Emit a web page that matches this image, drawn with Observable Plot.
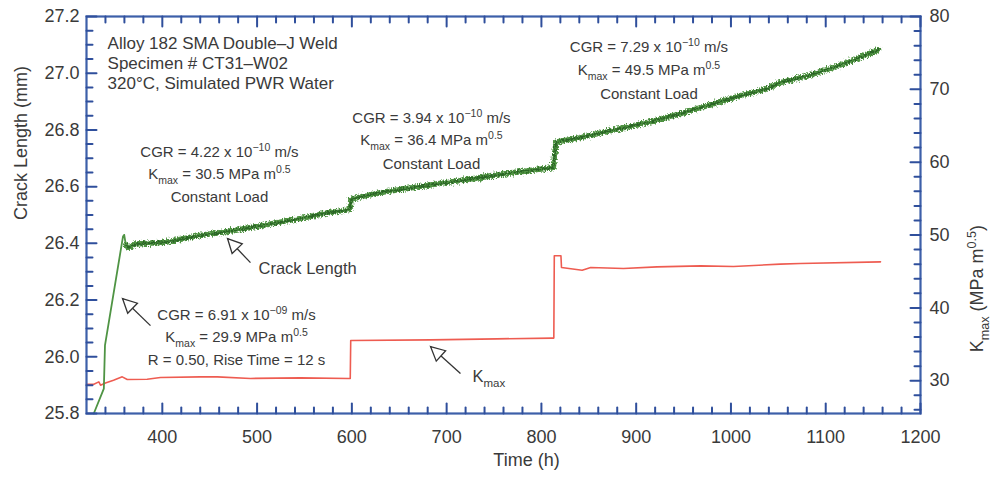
<!DOCTYPE html>
<html>
<head>
<meta charset="utf-8">
<script src="https://cdn.jsdelivr.net/npm/d3@7"></script>
<script src="https://cdn.jsdelivr.net/npm/@observablehq/plot@0.6"></script>
<style>
  body { margin: 0; background: #fff; overflow: hidden; }
  #chart svg { display: block; }
</style>
</head>
<body>
<div id="chart"></div>
<script>
// Crack length record (time in h, crack length in mm)
const crackTime = [327.7, 338.3, 339.5, 358.5, 359.8, 361.5, 364, 372, 385, 405, 440, 475, 510, 546, 575, 596, 598.3,
  599.0, 630, 665, 701, 736, 771, 800, 812.5,
  815.5, 841, 870, 912, 950, 982, 1010, 1038.6, 1052, 1080, 1108, 1130, 1155.7];
const crackLength = [25.80, 25.888, 26.040, 26.424, 26.430, 26.395, 26.385, 26.398, 26.400, 26.405, 26.428, 26.445, 26.466, 26.488, 26.508, 26.518, 26.525,
  26.556, 26.579, 26.597, 26.615, 26.632, 26.650, 26.662, 26.667,
  26.757, 26.773, 26.795, 26.826, 26.860, 26.893, 26.920, 26.946, 26.967, 26.990, 27.020, 27.047, 27.083];

// K_max record (time in h, MPa m^0.5)
const kTime = [320, 327.7, 333, 334.8, 340, 348.5, 357.7, 363, 384, 398, 440, 458, 493, 546, 596.5, 598.3,
  598.8, 683, 753, 811.4, 813.1,
  813.6, 820.6, 821.2, 843, 852, 886.6, 922, 968, 1002.7, 1052, 1073, 1157.8];
const kValue = [29.52, 29.52, 29.84, 29.38, 29.70, 30.07, 30.53, 30.17, 30.21, 30.45, 30.53, 30.53, 30.31, 30.39, 30.31, 30.31,
  35.52, 35.61, 35.75, 35.85, 35.85,
  47.16, 47.16, 45.55, 45.17, 45.55, 45.41, 45.63, 45.77, 45.69, 46.00, 46.10, 46.32];

// Axis ticks and labels
const timeTicks = [400, 500, 600, 700, 800, 900, 1000, 1100, 1200];
const lengthTicks = [25.8, 26.0, 26.2, 26.4, 26.6, 26.8, 27.0, 27.2];
const kTicks = [30, 40, 50, 60, 70, 80];
const timeMinor = d3.range(340, 1200, 20).filter(v => v % 100 !== 0);
const lengthMinor = d3.range(1, 28).filter(i => i % 4 !== 0).map(i => 25.8 + i * 0.05);
const kMinor = d3.range(26, 80, 2).filter(v => v % 10 !== 0);

// Annotation text (position in time / crack-length units)
const infoLines = ["Alloy 182 SMA Double–J Weld", "Specimen # CT31–W02", "320°C, Simulated PWR Water"];
const infoTime = 342.2;
const infoLength = [27.1047, 27.034, 26.9636];

const noteText = [
  "CGR = 4.22 x 10^{−10} m/s", "K_{max} = 30.5 MPa m^{0.5}", "Constant Load",
  "CGR = 3.94 x 10^{−10} m/s", "K_{max} = 36.4 MPa m^{0.5}", "Constant Load",
  "CGR = 7.29 x 10^{−10} m/s", "K_{max} = 49.5 MPa m^{0.5}", "Constant Load",
  "CGR = 6.91 x 10^{−09} m/s", "K_{max} = 29.9 MPa m^{0.5}", "R = 0.50, Rise Time = 12 s"
];
const noteTime = [460.3, 460.3, 460.3, 684, 684, 684, 913.5, 913.5, 913.5, 478.3, 478.3, 478.3];
const noteLength = [26.7203, 26.6427, 26.5616, 26.840, 26.7626, 26.678, 27.0906, 27.0095, 26.9248, 26.1456, 26.068, 25.9869];

const tagText = ["Crack Length", "K_{max}"];
const tagTime = [501.5, 727.3];
const tagLength = [26.311, 25.931];

// Arrows: tail -> tip
const arrowTail = [[387.5, 26.110], [493.0, 26.332], [714.6, 25.941]];
const arrowTip = [[358.0, 26.2055], [468.8, 26.417], [683.0, 26.036]];

// Layout
const W = 991, H = 478, ML = 86, MR = 71, MT = 16, MB = 65;
const innerW = W - ML - MR, innerH = H - MT - MB;
const X0 = 320, X1 = 1200, Y0 = 25.8, Y1 = 27.2, K0 = 25.5, K1 = 80;
const toL = k => Y0 + (k - K0) * (Y1 - Y0) / (K1 - K0);
const fromL = l => K0 + (l - Y0) * (K1 - K0) / (Y1 - Y0);

const blue = "#3d5fa9";
const ink = "#3a3a3a";
const font = "'Liberation Sans', Arial, Helvetica, sans-serif";

const crack = crackTime.map((t, i) => ({t, L: crackLength[i]}));
const crackSteady = crack.filter(d => d.t >= 361);
const kmax = kTime.map((t, i) => ({t, L: toL(kValue[i])}));
const info = infoLines.map((s, i) => ({t: infoTime, L: infoLength[i], s}));
const notes = noteText.map((s, i) => ({t: noteTime[i], L: noteLength[i], s}));
const tags = tagText.map((s, i) => ({t: tagTime[i], L: tagLength[i], s}));

// pixels per data unit, used for tick lengths and arrow angles
const sx = innerW / (X1 - X0), sy = innerH / (Y1 - Y0);
const px = n => n / sx, py = n => n / sy;

const arrows = arrowTail.map((a, i) => {
  const b = arrowTip[i];
  const dx = (b[0] - a[0]) * sx, dy = -(b[1] - a[1]) * sy;
  return {t1: a[0], L1: a[1], t2: b[0], L2: b[1], angle: Math.atan2(dx, -dy) * 180 / Math.PI};
});

// hollow arrowhead with its tip at the origin, pointing up
const head = {
  draw(context) {
    context.moveTo(0, 0);
    context.lineTo(7, 14);
    context.lineTo(-7, 14);
    context.closePath();
  }
};

// inward tick marks on all four sides, each one a two-point series
const tickSegs = [
  ...timeTicks.map(v => [v, Y0, v, Y0 + py(10)]),
  ...timeMinor.map(v => [v, Y0, v, Y0 + py(6)]),
  ...timeTicks.map(v => [v, Y1, v, Y1 - py(10)]),
  ...timeMinor.map(v => [v, Y1, v, Y1 - py(6)]),
  ...lengthTicks.map(v => [X0, v, X0 + px(10), v]),
  ...lengthMinor.map(v => [X0, v, X0 + px(6), v]),
  ...kTicks.map(v => [X1, toL(v), X1 - px(10), toL(v)]),
  ...kMinor.map(v => [X1, toL(v), X1 - px(6), toL(v)])
];
const tickPoints = tickSegs.flatMap(([xa, ya, xb, yb], id) => [{x: xa, y: ya, id}, {x: xb, y: yb, id}]);

const chart = Plot.plot({
  width: W, height: H,
  marginLeft: ML, marginRight: MR, marginTop: MT, marginBottom: MB,
  style: {fontFamily: font, background: "white", overflow: "visible"},
  x: {domain: [X0, X1], label: null},
  y: {domain: [Y0, Y1], label: null},
  marks: [
    // K_max (right scale)
    Plot.line(kmax, {x: "t", y: "L", stroke: "#ee5c51", strokeWidth: 1.6}),

    // crack length: thin trace, then the noisy constant-load band
    Plot.line(crack, {x: "t", y: "L", stroke: "#4f9444", strokeWidth: 1.8}),
    Plot.line(crackSteady, {x: "t", y: "L", stroke: "#4f9343", strokeWidth: 5.5}),
    Plot.line(crackSteady, {x: "t", y: "L", stroke: "#2c6527", strokeWidth: 2}),

    Plot.frame({stroke: blue, strokeWidth: 2.2}),

    // arrows
    Plot.link(arrows, {x1: "t1", y1: "L1", x2: "t2", y2: "L2", stroke: "#333", strokeWidth: 1.3}),
    Plot.dot(arrows, {x: "t2", y: "L2", symbol: head, rotate: "angle", fill: "white", stroke: "#333", strokeWidth: 1.3}),

    // annotations
    Plot.text(info, {x: "t", y: "L", text: "s", textAnchor: "start", fontSize: 17, fill: ink}),
    Plot.text(notes, {x: "t", y: "L", text: "s", fontSize: 15, fill: ink}),
    Plot.text(tags, {x: "t", y: "L", text: "s", textAnchor: "start", fontSize: 16.5, fill: ink}),

    // axis labels
    Plot.axisX(timeTicks, {anchor: "bottom", tickSize: 0, tickPadding: 17, fontSize: 18, color: ink, label: null, tickFormat: d => String(d)}),
    Plot.axisY(lengthTicks, {anchor: "left", tickSize: 0, tickPadding: 7, fontSize: 18, color: ink, label: null, tickFormat: d3.format(".1f")}),
    Plot.axisY(kTicks.map(toL), {anchor: "right", tickSize: 0, tickPadding: 9, fontSize: 18, color: ink, label: null, tickFormat: d => String(Math.round(fromL(d)))}),

    // axis titles
    Plot.text(["Time (h)"], {frameAnchor: "bottom", dx: 23, dy: 52, fontSize: 18, fill: ink}),
    Plot.text(["Crack Length (mm)"], {frameAnchor: "left", dx: -65, dy: 5, rotate: -90, fontSize: 18, fill: ink}),
    Plot.text(["K_{max} (MPa m^{0.5})"], {frameAnchor: "right", dx: 57, dy: 10, rotate: -90, fontSize: 18, fill: ink}),

    // tick marks
    Plot.line(tickPoints, {x: "x", y: "y", z: "id", stroke: "#2f4f9c", strokeWidth: 2})
  ]
});

document.getElementById("chart").appendChild(chart);

// textured stroke for the noisy constant-load signal
const svgNS = "http://www.w3.org/2000/svg";
const defs = document.createElementNS(svgNS, "defs");
const fuzz = document.createElementNS(svgNS, "filter");
fuzz.setAttribute("id", "fuzz");
fuzz.setAttribute("filterUnits", "userSpaceOnUse");
fuzz.setAttribute("x", 0); fuzz.setAttribute("y", 0);
fuzz.setAttribute("width", W); fuzz.setAttribute("height", H);
const turb = document.createElementNS(svgNS, "feTurbulence");
turb.setAttribute("type", "fractalNoise");
turb.setAttribute("baseFrequency", "0.7 0.5");
turb.setAttribute("numOctaves", "2");
turb.setAttribute("seed", "7");
turb.setAttribute("result", "noise");
const disp = document.createElementNS(svgNS, "feDisplacementMap");
disp.setAttribute("in", "SourceGraphic");
disp.setAttribute("in2", "noise");
disp.setAttribute("scale", "6");
disp.setAttribute("xChannelSelector", "R");
disp.setAttribute("yChannelSelector", "G");
fuzz.appendChild(turb); fuzz.appendChild(disp);
defs.appendChild(fuzz);
chart.insertBefore(defs, chart.firstChild);
const lineGroups = chart.querySelectorAll('g[aria-label="line"]');
[2, 3].forEach(i => lineGroups[i] && lineGroups[i].setAttribute("filter", "url(#fuzz)"));

// superscripts ^{...} and subscripts _{...}
chart.querySelectorAll("text").forEach(el => {
  const src = el.textContent;
  if (!/[\^_]\{/.test(src)) return;
  const fs = parseFloat(getComputedStyle(el).fontSize) || 15;
  while (el.firstChild) el.removeChild(el.firstChild);
  let shift = 0;
  for (const part of src.split(/([\^_]\{[^}]*\})/)) {
    if (!part) continue;
    const ts = document.createElementNS(svgNS, "tspan");
    let target = 0, txt = part;
    if (part.startsWith("^{")) {
      target = -0.42 * fs; txt = part.slice(2, -1);
      ts.setAttribute("font-size", (0.7 * fs).toFixed(1));
    } else if (part.startsWith("_{")) {
      target = 0.3 * fs; txt = part.slice(2, -1);
      ts.setAttribute("font-size", (0.7 * fs).toFixed(1));
    }
    ts.setAttribute("dy", (target - shift).toFixed(2));
    shift = target;
    ts.textContent = txt;
    el.appendChild(ts);
  }
});
</script>
</body>
</html>
